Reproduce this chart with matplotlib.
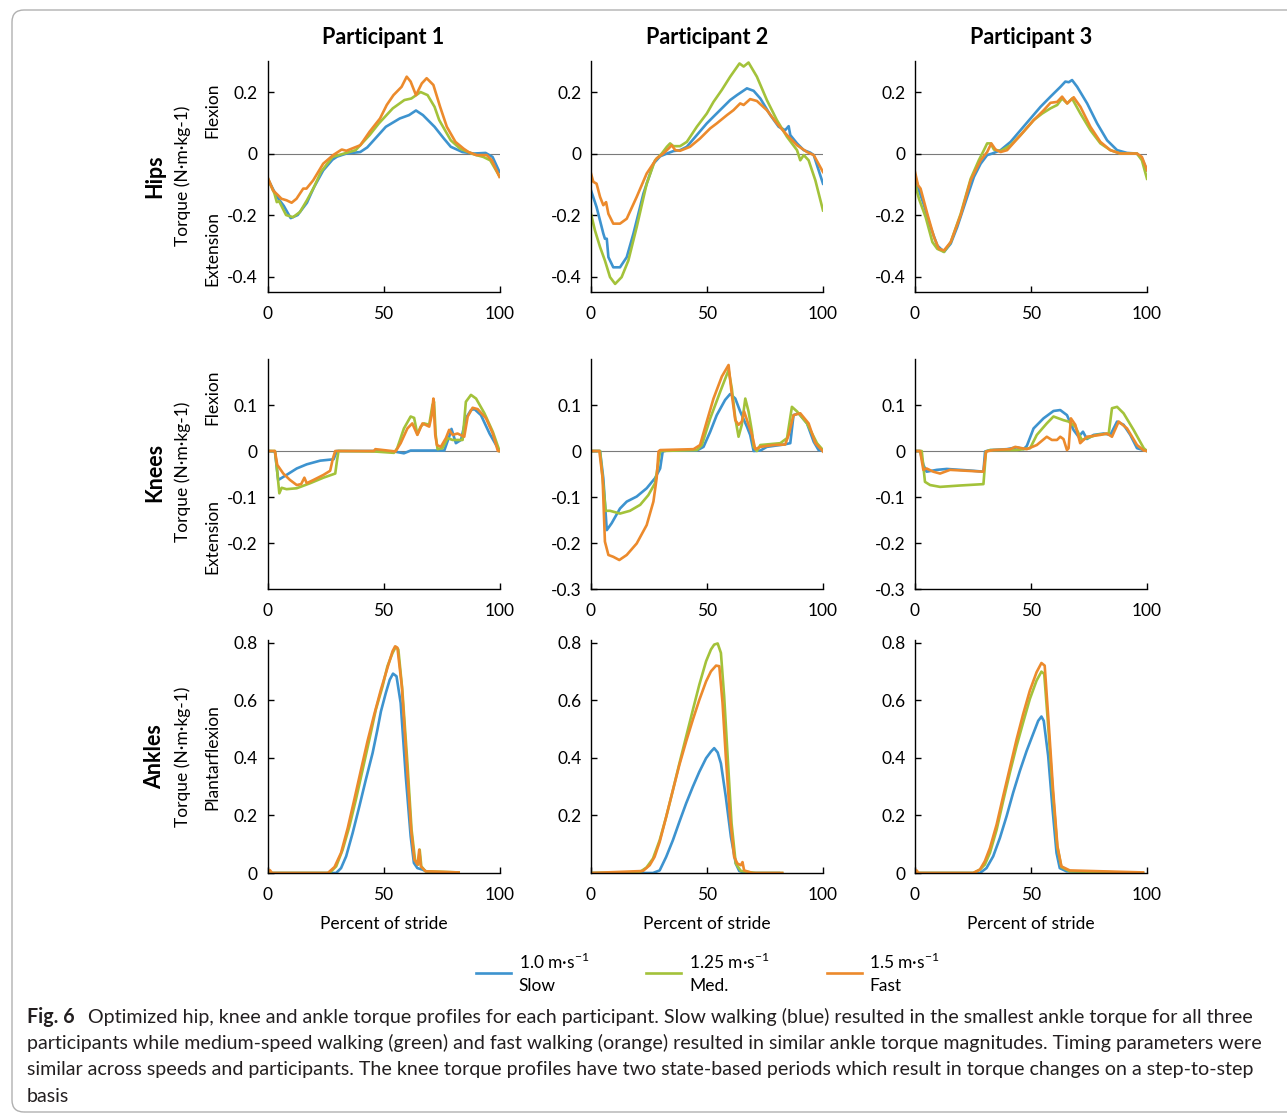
import matplotlib
matplotlib.use('Agg')
import matplotlib.pyplot as plt
from matplotlib import font_manager
from matplotlib.patches import FancyBboxPatch
from matplotlib.ticker import FuncFormatter

# ---- data (percent of stride, torque N*m/kg) ----
# hips
hip1_slow_x = [0, 4, 7, 10, 13, 17, 20, 24, 28, 30, 34, 40, 43, 46, 51, 57, 61, 64, 67, 72, 76, 79, 84, 89, 94, 97, 100]
hip1_slow_y = [-0.08, -0.14, -0.17, -0.21, -0.2, -0.16, -0.11, -0.055, -0.02, -0.01, 0.0, 0.005, 0.02, 0.045, 0.087, 0.114, 0.125, 0.14, 0.125, 0.087, 0.049, 0.022, 0.005, 0.0, 0.002, -0.011, -0.06]
hip1_med_x = [0, 3, 4, 5, 8, 11, 14, 17, 20, 23, 28, 33, 38, 44, 48, 54, 59, 62, 66, 69, 72, 74, 79, 83, 88, 90, 93, 96, 100]
hip1_med_y = [-0.08, -0.13, -0.158, -0.155, -0.2, -0.207, -0.19, -0.152, -0.11, -0.06, -0.011, 0.0, 0.011, 0.06, 0.098, 0.147, 0.174, 0.179, 0.2, 0.19, 0.152, 0.109, 0.043, 0.016, 0.0, -0.005, -0.011, -0.022, -0.074]
hip1_fast_x = [0, 2.4, 4.6, 6, 8.2, 10.4, 12.5, 15.4, 16.8, 19.7, 24, 28.3, 32, 34, 40, 44, 48.5, 51.4, 54.3, 57.8, 60, 61.7, 64, 66.5, 68.6, 71.5, 74.4, 77.3, 81, 84.5, 86.6, 90, 94.5, 96.7, 100]
hip1_fast_y = [-0.076, -0.12, -0.136, -0.147, -0.152, -0.16, -0.147, -0.114, -0.114, -0.087, -0.033, -0.005, 0.013, 0.009, 0.027, 0.071, 0.114, 0.158, 0.19, 0.217, 0.25, 0.234, 0.19, 0.228, 0.245, 0.223, 0.152, 0.087, 0.038, 0.016, 0.005, -0.005, -0.005, -0.022, -0.076]

hip2_slow_x = [0, 2.4, 5.3, 6, 6.8, 7.5, 9.6, 12.5, 15.4, 18.3, 22.6, 26.9, 29.8, 32.7, 35.5, 38.4, 41.3, 45.6, 49.9, 52.8, 56.4, 60, 62.9, 67.2, 70.1, 73, 77.3, 80.9, 83.7, 85.2, 85.9, 88.8, 91.7, 94.5, 96, 100]
hip2_slow_y = [-0.12, -0.174, -0.26, -0.277, -0.277, -0.337, -0.37, -0.37, -0.337, -0.26, -0.13, -0.033, -0.009, 0.0, 0.008, 0.011, 0.022, 0.06, 0.098, 0.12, 0.147, 0.174, 0.19, 0.212, 0.204, 0.179, 0.125, 0.087, 0.076, 0.089, 0.06, 0.033, 0.011, 0.003, -0.005, -0.098]
hip2_med_x = [0, 1.7, 3.9, 6, 8.2, 10.4, 13.2, 16.1, 19.7, 24, 27.6, 30.5, 32.7, 34.1, 35.5, 38.4, 41.3, 45.6, 49.9, 52.8, 56.4, 60, 64, 65.8, 67.9, 71.5, 75.8, 80.1, 84.5, 88.8, 90.2, 91.7, 93.8, 96.7, 100]
hip2_med_y = [-0.196, -0.25, -0.304, -0.348, -0.402, -0.424, -0.402, -0.348, -0.239, -0.098, -0.022, 0.0, 0.022, 0.033, 0.024, 0.024, 0.038, 0.087, 0.13, 0.168, 0.207, 0.25, 0.293, 0.283, 0.296, 0.25, 0.174, 0.109, 0.054, 0.011, -0.022, -0.005, -0.022, -0.087, -0.185]
hip2_fast_x = [0, 1, 2.4, 3.9, 5.3, 6.5, 7.5, 9.6, 12.5, 15.4, 19.7, 24, 28.3, 31.2, 33.4, 34.8, 36.3, 38.4, 42.7, 47, 51.4, 54.2, 58.6, 61.4, 64.3, 65.8, 68.6, 71.5, 75.8, 80.1, 84.5, 88.8, 93.1, 96, 100]
hip2_fast_y = [-0.065, -0.092, -0.098, -0.141, -0.168, -0.158, -0.196, -0.228, -0.228, -0.212, -0.141, -0.065, -0.016, 0.0, 0.016, 0.027, 0.011, 0.009, 0.022, 0.049, 0.082, 0.098, 0.125, 0.141, 0.163, 0.158, 0.177, 0.171, 0.141, 0.098, 0.06, 0.027, 0.005, -0.005, -0.06]

hip3_slow_x = [0, 1.7, 3.9, 6.7, 9.6, 12.5, 15.4, 18.2, 22.5, 25.4, 28.3, 31.1, 33.3, 36.9, 41.2, 45.5, 49.8, 54.1, 58.4, 62.7, 64.8, 66.3, 67.7, 69.9, 74.2, 78.5, 82.8, 87.1, 91.4, 95.6, 97.8, 100]
hip3_slow_y = [-0.071, -0.12, -0.168, -0.239, -0.299, -0.32, -0.293, -0.239, -0.141, -0.076, -0.033, -0.005, 0.0, 0.011, 0.038, 0.076, 0.114, 0.152, 0.185, 0.217, 0.234, 0.232, 0.239, 0.217, 0.163, 0.098, 0.043, 0.011, 0.002, 0.0, -0.016, -0.054]
hip3_med_x = [0, 1.7, 4.6, 7.5, 9.6, 12.5, 15.4, 19.7, 24, 27.5, 29.7, 31.1, 32.6, 34, 36.9, 41.2, 45.5, 51.2, 54.8, 58.4, 61.3, 63.4, 65.6, 67.7, 71.3, 75.6, 79.9, 84.2, 88.5, 95.7, 97.8, 100]
hip3_med_y = [-0.098, -0.147, -0.207, -0.288, -0.31, -0.32, -0.288, -0.196, -0.082, -0.022, 0.011, 0.033, 0.033, 0.013, 0.008, 0.027, 0.06, 0.109, 0.13, 0.147, 0.158, 0.179, 0.163, 0.179, 0.13, 0.076, 0.033, 0.011, 0.0, 0.0, -0.022, -0.082]
hip3_fast_x = [0, 1.3, 2.4, 5.3, 8.2, 10.3, 12.5, 15.4, 19.7, 24, 28.3, 31.1, 32.9, 34.7, 36.9, 39.7, 45.5, 51.2, 55.5, 58.4, 61.3, 63.4, 65.6, 68.4, 71.3, 75.6, 79.9, 84.2, 88.5, 95.7, 97.8, 100]
hip3_fast_y = [-0.06, -0.103, -0.114, -0.196, -0.272, -0.31, -0.315, -0.288, -0.2, -0.087, -0.022, 0.005, 0.033, 0.013, 0.005, 0.011, 0.06, 0.109, 0.141, 0.165, 0.168, 0.185, 0.163, 0.183, 0.152, 0.087, 0.038, 0.011, 0.0, 0.0, -0.011, -0.054]

# knees
knee1_slow_x = [0, 3.2, 4.6, 5.3, 8.2, 12.6, 16.9, 22.7, 28.5, 29.9, 31.4, 45.8, 54.5, 58.8, 61.7, 70.4, 76.2, 78.3, 79.3, 81.2, 83.4, 85.5, 87.7, 89.2, 92, 95.7, 100]
knee1_slow_y = [0, -0.001, -0.063, -0.061, -0.052, -0.038, -0.029, -0.021, -0.018, 0.0, 0.0, 0.0, -0.001, -0.005, 0.001, 0.001, 0.001, 0.031, 0.048, 0.017, 0.024, 0.071, 0.089, 0.091, 0.078, 0.038, 0.0]
knee1_med_x = [0, 3.2, 3.9, 5.1, 6.1, 8.2, 12.6, 18.4, 24.1, 29.2, 29.9, 30.6, 45.8, 54.5, 55.9, 58.8, 61.7, 63.2, 64.6, 66, 67.5, 69.7, 71.1, 71.8, 72.5, 73.3, 75.4, 77.6, 79.8, 84.1, 85.5, 87.7, 89.9, 93.5, 97.1, 100]
knee1_med_y = [0, 0, -0.03, -0.092, -0.08, -0.083, -0.081, -0.07, -0.058, -0.049, -0.023, 0.0, -0.001, -0.004, 0.006, 0.049, 0.075, 0.072, 0.036, 0.053, 0.06, 0.057, 0.1, 0.107, 0.035, 0.004, 0.006, 0.028, 0.024, 0.024, 0.107, 0.122, 0.114, 0.082, 0.042, 0.0]
knee1_fast_x = [0, 3.2, 4.2, 6.8, 9.7, 12.6, 14.5, 15.9, 16.9, 19.8, 24.1, 27, 28.2, 29.2, 45.8, 46.5, 55.2, 57.4, 60.3, 62.4, 64.6, 66.8, 69.7, 70.8, 71.5, 72.3, 73, 74.7, 76.9, 78.3, 79.8, 81.9, 84.8, 86.3, 88.4, 90.6, 94.2, 97.1, 99.3, 100]
knee1_fast_y = [0, 0, -0.03, -0.049, -0.063, -0.074, -0.072, -0.058, -0.07, -0.063, -0.052, -0.043, -0.016, 0.0, 0.0, 0.004, -0.001, 0.017, 0.049, 0.06, 0.035, 0.06, 0.053, 0.078, 0.114, 0.035, 0.013, 0.009, 0.028, 0.046, 0.035, 0.038, 0.031, 0.075, 0.094, 0.091, 0.071, 0.038, 0.0, 0.0]

knee2_slow_x = [0, 3.9, 5.3, 6.8, 8.9, 12.5, 15.4, 19.7, 24, 27.6, 29.8, 30.9, 32.7, 45.6, 48.5, 51.4, 54.2, 57.8, 60, 62.2, 64.3, 67.2, 68.6, 70.1, 73, 75.8, 83, 85.9, 87.3, 89.5, 93.1, 96, 98.1, 100]
knee2_slow_y = [0, 0, -0.059, -0.172, -0.157, -0.125, -0.11, -0.099, -0.081, -0.059, -0.038, -0.001, 0.001, 0.001, 0.009, 0.042, 0.078, 0.111, 0.124, 0.114, 0.086, 0.053, 0.035, 0.0, 0.001, 0.009, 0.014, 0.017, 0.078, 0.082, 0.06, 0.02, 0.002, 0.0]
knee2_med_x = [0, 3.9, 5.3, 6.3, 8.2, 12.5, 16.8, 21.2, 24.7, 27.6, 29.1, 29.8, 45.6, 47.8, 51.4, 55.7, 59.3, 60.7, 62.2, 63.6, 65, 66.5, 67.9, 69.4, 70.1, 71.5, 73, 81.6, 84.5, 86.6, 88.8, 93.1, 97.4, 100]
knee2_med_y = [0, 0, -0.074, -0.13, -0.13, -0.136, -0.13, -0.117, -0.096, -0.07, -0.023, 0, 0.002, 0.013, 0.071, 0.129, 0.176, 0.136, 0.071, 0.031, 0.057, 0.114, 0.086, 0.042, 0.009, 0.0, 0.013, 0.017, 0.028, 0.096, 0.086, 0.06, 0.017, 0.002]
knee2_fast_x = [0, 3.6, 5, 6, 7.5, 9.6, 12.2, 15.4, 19.7, 24, 26.9, 28.3, 29.1, 29.8, 44.2, 47, 49.9, 52.8, 56.4, 59.3, 60.7, 62.2, 63.6, 65, 66, 67.9, 69.4, 70.8, 73, 78.7, 83.7, 85.2, 87.3, 90.2, 93.8, 96.7, 100]
knee2_fast_y = [0, 0, -0.059, -0.197, -0.226, -0.23, -0.237, -0.226, -0.201, -0.161, -0.11, -0.059, -0.001, 0.002, 0.004, 0.013, 0.064, 0.114, 0.162, 0.187, 0.122, 0.067, 0.057, 0.064, 0.086, 0.057, 0.035, 0.004, 0.009, 0.013, 0.014, 0.035, 0.078, 0.082, 0.06, 0.017, -0.001]

knee3_slow_x = [0, 2.2, 3.6, 5, 9.4, 13.7, 19.4, 25.2, 29.5, 30.2, 32.4, 39.6, 43.9, 46.8, 48.2, 51.1, 55.4, 59.7, 62.6, 65.5, 68.3, 70.5, 72.4, 74.1, 77, 81.3, 84.2, 87.1, 89.9, 92.8, 95.7, 100]
knee3_slow_y = [0, 0, -0.03, -0.045, -0.041, -0.039, -0.041, -0.043, -0.045, -0.001, 0.002, 0.004, 0.008, 0.004, 0.011, 0.049, 0.071, 0.087, 0.089, 0.078, 0.046, 0.031, 0.042, 0.026, 0.035, 0.038, 0.035, 0.064, 0.057, 0.035, 0.006, 0]
knee3_med_x = [0, 2.9, 4.3, 6.5, 10.8, 19.4, 29.5, 30.6, 32.4, 43.9, 49.6, 52.5, 56.8, 59.7, 64, 66.2, 69.1, 71.9, 74.1, 78.4, 83.5, 84.9, 87.1, 89.9, 94.2, 98.6, 100]
knee3_med_y = [0, 0, -0.067, -0.074, -0.078, -0.075, -0.072, -0.001, 0.002, 0.002, 0.006, 0.035, 0.06, 0.075, 0.067, 0.064, 0.053, 0.024, 0.028, 0.035, 0.038, 0.093, 0.096, 0.082, 0.046, 0.006, 0]
knee3_fast_x = [0, 2.2, 3.6, 5, 7.9, 10.8, 15.1, 22.3, 29.5, 30.6, 33.8, 41, 43.2, 48.2, 52.5, 56.8, 59, 61.2, 62.6, 64, 65.5, 66.2, 67.2, 69.1, 71.2, 74.1, 79.9, 82.7, 84.9, 87.8, 91.4, 95.7, 98.6, 100]
knee3_fast_y = [0, 0, -0.041, -0.038, -0.045, -0.049, -0.041, -0.043, -0.045, -0.001, 0.002, 0.004, 0.009, 0.004, 0.013, 0.031, 0.024, 0.024, 0.031, 0.026, 0.002, 0.006, 0.071, 0.057, 0.017, 0.031, 0.035, 0.038, 0.031, 0.064, 0.049, 0.013, 0.001, 0]

# ankles
ankle1_slow_x = [0, 29.6, 31.7, 33.9, 36.7, 39.6, 42.4, 45.3, 47.4, 48.9, 51, 52.7, 54.1, 55.6, 57.4, 59.6, 61.7, 63.1, 64.6, 66.7, 69.6, 75]
ankle1_slow_y = [0, 0, 0.017, 0.058, 0.139, 0.232, 0.325, 0.417, 0.499, 0.562, 0.626, 0.672, 0.693, 0.684, 0.591, 0.336, 0.128, 0.035, 0.017, 0.012, 0.002, 0]
ankle1_med_x = [0, 26.7, 29.6, 32.4, 35.3, 38.1, 41, 43.9, 46.7, 49.6, 51.7, 53.9, 55.3, 56.4, 58.1, 60.3, 62.1, 63.6, 65, 65.6, 66.3, 68.1, 82.4]
ankle1_med_y = [0, 0, 0.023, 0.081, 0.162, 0.255, 0.359, 0.464, 0.568, 0.649, 0.719, 0.765, 0.786, 0.777, 0.638, 0.383, 0.151, 0.046, 0.029, 0.081, 0.023, 0.006, 0.002]
ankle1_fast_x = [0, 1.0, 2.0, 26, 28.9, 31.7, 34.6, 37.4, 40.3, 43.1, 46, 48.9, 51.7, 53.9, 55, 56, 57.9, 60, 61.9, 63.3, 64.7, 65.4, 66.1, 68.1, 82.4]
ankle1_fast_y = [0, 0.01, 0, 0, 0.021, 0.07, 0.157, 0.255, 0.359, 0.458, 0.551, 0.638, 0.713, 0.771, 0.788, 0.783, 0.649, 0.383, 0.151, 0.046, 0.029, 0.081, 0.023, 0.006, 0.002]

ankle2_slow_x = [0, 26.7, 29.6, 32.4, 35.3, 38.1, 41, 43.9, 46.7, 49.6, 51.7, 53.1, 54.6, 56, 58.1, 60.3, 62.4, 63.9, 66.7, 81]
ankle2_slow_y = [0, 0, 0.009, 0.056, 0.114, 0.178, 0.242, 0.3, 0.352, 0.399, 0.422, 0.434, 0.419, 0.381, 0.265, 0.126, 0.033, 0.007, 0, 0]
ankle2_med_x = [0, 21, 23.9, 26.7, 29.6, 32.4, 35.3, 38.1, 41, 43.9, 46.7, 49.6, 51.7, 53.1, 54.6, 56, 57.4, 58.9, 60.6, 62.4, 64.6, 71, 82.4]
ankle2_med_y = [0, 0.003, 0.019, 0.05, 0.114, 0.195, 0.288, 0.381, 0.474, 0.567, 0.655, 0.736, 0.777, 0.794, 0.798, 0.765, 0.614, 0.405, 0.172, 0.033, 0.007, 0, 0]
ankle2_fast_x = [0, 22.4, 25.3, 27.4, 29.6, 32.4, 35.3, 38.1, 41, 43.9, 46.7, 49.6, 51.7, 53.9, 55.3, 56.7, 58.1, 59.9, 61.7, 63.1, 64.6, 65.3, 66, 69.6, 82.4]
ankle2_fast_y = [0, 0.007, 0.027, 0.056, 0.108, 0.195, 0.288, 0.376, 0.457, 0.533, 0.602, 0.666, 0.701, 0.721, 0.719, 0.591, 0.405, 0.195, 0.056, 0.033, 0.027, 0.038, 0.009, 0, 0]

ankle3_slow_x = [0, 28, 30.8, 33.7, 36.6, 39.5, 42.3, 45.2, 48.1, 50.9, 53.1, 54.5, 55.5, 57.4, 59.3, 61, 62.4, 65.3, 96.8]
ankle3_slow_y = [0, 0, 0.017, 0.058, 0.122, 0.198, 0.279, 0.355, 0.424, 0.483, 0.529, 0.544, 0.529, 0.407, 0.221, 0.07, 0.017, 0.006, 0]
ankle3_med_x = [0, 25.1, 28, 30.1, 32.3, 35.2, 38, 40.9, 43.8, 46.6, 49.5, 52.4, 54.5, 55.7, 57.4, 59.3, 61.3, 63.1, 66.7, 98.3]
ankle3_med_y = [0, 0, 0.012, 0.029, 0.07, 0.151, 0.25, 0.349, 0.442, 0.523, 0.605, 0.669, 0.7, 0.692, 0.512, 0.291, 0.093, 0.021, 0.006, 0]
ankle3_fast_x = [0, 0.7, 1.5, 25.1, 28, 30.1, 32.3, 35.2, 38, 40.9, 43.8, 46.6, 49.5, 52.4, 54.5, 55.9, 57.6, 59.5, 61.4, 63.1, 66.7, 98.3]
ankle3_fast_y = [0, 0.009, 0, 0, 0.012, 0.041, 0.087, 0.169, 0.267, 0.366, 0.465, 0.552, 0.634, 0.698, 0.73, 0.721, 0.523, 0.291, 0.093, 0.023, 0.009, 0.002]

speeds = ['1.0 m\u2219s$^{\\mathregular{-1}}$\nSlow',
          '1.25 m\u2219s$^{\\mathregular{-1}}$\nMed.',
          '1.5 m\u2219s$^{\\mathregular{-1}}$\nFast']
participants = ['Participant 1', 'Participant 2', 'Participant 3']
caption_lines = [
    'Optimized hip, knee and ankle torque profiles for each participant. Slow walking (blue) resulted in the smallest ankle torque for all three',
    'participants while medium-speed walking (green) and fast walking (orange) resulted in similar ankle torque magnitudes. Timing parameters were',
    'similar across speeds and participants. The knee torque profiles have two state-based periods which result in torque changes on a step-to-step',
    'basis',
]

colors = ['#3d93cf', '#a3c23a', '#ec8a2c']

data = {
    'hip': [[(hip1_slow_x, hip1_slow_y), (hip1_med_x, hip1_med_y), (hip1_fast_x, hip1_fast_y)],
            [(hip2_slow_x, hip2_slow_y), (hip2_med_x, hip2_med_y), (hip2_fast_x, hip2_fast_y)],
            [(hip3_slow_x, hip3_slow_y), (hip3_med_x, hip3_med_y), (hip3_fast_x, hip3_fast_y)]],
    'knee': [[(knee1_slow_x, knee1_slow_y), (knee1_med_x, knee1_med_y), (knee1_fast_x, knee1_fast_y)],
             [(knee2_slow_x, knee2_slow_y), (knee2_med_x, knee2_med_y), (knee2_fast_x, knee2_fast_y)],
             [(knee3_slow_x, knee3_slow_y), (knee3_med_x, knee3_med_y), (knee3_fast_x, knee3_fast_y)]],
    'ankle': [[(ankle1_slow_x, ankle1_slow_y), (ankle1_med_x, ankle1_med_y), (ankle1_fast_x, ankle1_fast_y)],
              [(ankle2_slow_x, ankle2_slow_y), (ankle2_med_x, ankle2_med_y), (ankle2_fast_x, ankle2_fast_y)],
              [(ankle3_slow_x, ankle3_slow_y), (ankle3_med_x, ankle3_med_y), (ankle3_fast_x, ankle3_fast_y)]],
}

# ---- layout (pixel positions of the reference) ----
W, H = 1287, 1115
FONT = 'Lato'
plt.rcParams['font.family'] = [FONT, 'DejaVu Sans']
plt.rcParams['axes.unicode_minus'] = False
plt.rcParams['mathtext.fontset'] = 'custom'
plt.rcParams['mathtext.rm'] = FONT

def fx(px):
    return px / W

def fy(py):
    return 1 - py / H

cols = [(267.5, 499.5), (591, 823), (915, 1147)]
rows = {'hip': (61.3, 291.9, (-0.45, 0.3)),
        'knee': (359, 589, (-0.3, 0.2)),
        'ankle': (640, 873, (0, 0.81))}
yticks = {'hip': [[-0.4, -0.2, 0, 0.2]] * 3,
          'knee': [[-0.2, -0.1, 0, 0.1], [-0.3, -0.2, -0.1, 0, 0.1], [-0.3, -0.2, -0.1, 0, 0.1]],
          'ankle': [[0, 0.2, 0.4, 0.6, 0.8], [0.2, 0.4, 0.6, 0.8], [0, 0.2, 0.4, 0.6, 0.8]]}

fmt = FuncFormatter(lambda v, _: '0' if abs(v) < 1e-9 else ('%g' % v))

fig = plt.figure(figsize=(W / 100, H / 100), dpi=100)

lines = []
for joint, (y0, y1, ylim) in rows.items():
    for c, (x0, x1) in enumerate(cols):
        ax = fig.add_axes([fx(x0), fy(y1), (x1 - x0) / W, (y1 - y0) / H])
        if joint != 'ankle':
            ax.axhline(0, color='#7a7a7a', lw=0.8, zorder=1)
        for (xs, ys), col in zip(data[joint][c], colors):
            ln, = ax.plot(xs, ys, color=col, lw=1.9, solid_joinstyle='round', zorder=2)
            if joint == 'ankle' and c == 0:
                lines.append(ln)
        ax.set_xlim(0, 100)
        ax.set_ylim(*ylim)
        ax.set_xticks([0, 50, 100])
        ax.set_yticks(yticks[joint][c])
        ax.yaxis.set_major_formatter(fmt)
        for s in ['top', 'right']:
            ax.spines[s].set_visible(False)
        for s in ['left', 'bottom']:
            ax.spines[s].set_linewidth(1.0)
        ax.tick_params(direction='in', length=4, width=1.0, labelsize=12.5)
        ax.tick_params(axis='x', pad=10)
        ax.tick_params(axis='y', pad=7)
        ax.patch.set_visible(False)

# column titles and x labels
for c, (x0, x1) in enumerate(cols):
    xc = (x0 + x1) / 2
    fig.text(fx(xc), fy(38), participants[c], ha='center', va='center',
             fontsize=15.5, fontweight='bold')
    fig.text(fx(xc), fy(924), 'Percent of stride', ha='center', va='center', fontsize=12.5)

# row labels
torque = 'Torque (N\u2219m\u2219kg-1)'
row_text = [('Hips', 176, [('Flexion', 110), ('Extension', 248)]),
            ('Knees', 472, [('Flexion', 397), ('Extension', 537)]),
            ('Ankles', 757, [('Plantarflexion', 757)])]
for name, yc, subs in row_text:
    fig.text(fx(155), fy(yc), name, rotation=90, ha='center', va='center',
             fontsize=15.5, fontweight='bold')
    fig.text(fx(183), fy(yc), torque, rotation=90, ha='center', va='center', fontsize=12.5)
    for s, ys in subs:
        fig.text(fx(212), fy(ys), s, rotation=90, ha='center', va='center', fontsize=12.5)

# legend
leg = fig.legend(lines, speeds, loc='center', bbox_to_anchor=(fx(708), fy(973)), ncol=3,
                 frameon=False, fontsize=12.5, handlelength=2.0, handletextpad=0.45,
                 columnspacing=3.3, borderaxespad=0)
for t in leg.get_texts():
    t.set_linespacing(1.45)

# caption
names = {f.name for f in font_manager.fontManager.ttflist}
cap_font = 'Liberation Sans Narrow' if 'Liberation Sans Narrow' in names else FONT
renderer = fig.canvas.get_renderer()
probe = fig.text(fx(27), fy(1043), caption_lines[1], fontsize=13, family=cap_font, va='center')
w = probe.get_window_extent(renderer).width
cap_fs = 13 * (1256 - 27) / w
probe.remove()

fig.text(fx(27), fy(1017), 'Fig. 6', fontsize=cap_fs, family=cap_font, fontweight='bold',
         va='center', color='#231f20')
cap_pos = [(88, 1017), (27, 1043), (27, 1070), (27, 1097)]
for txt, (px, py) in zip(caption_lines, cap_pos):
    fig.text(fx(px), fy(py), txt, fontsize=cap_fs, family=cap_font, va='center', color='#231f20')

# frame round the figure
frame = FancyBboxPatch((0.12, 0.03), 13.2, 11.02, boxstyle='round,pad=0,rounding_size=0.12',
                       transform=fig.dpi_scale_trans, fill=False, ec='#b0b0b0', lw=1.0)
fig.add_artist(frame)

fig.savefig('out.png', dpi=100)
